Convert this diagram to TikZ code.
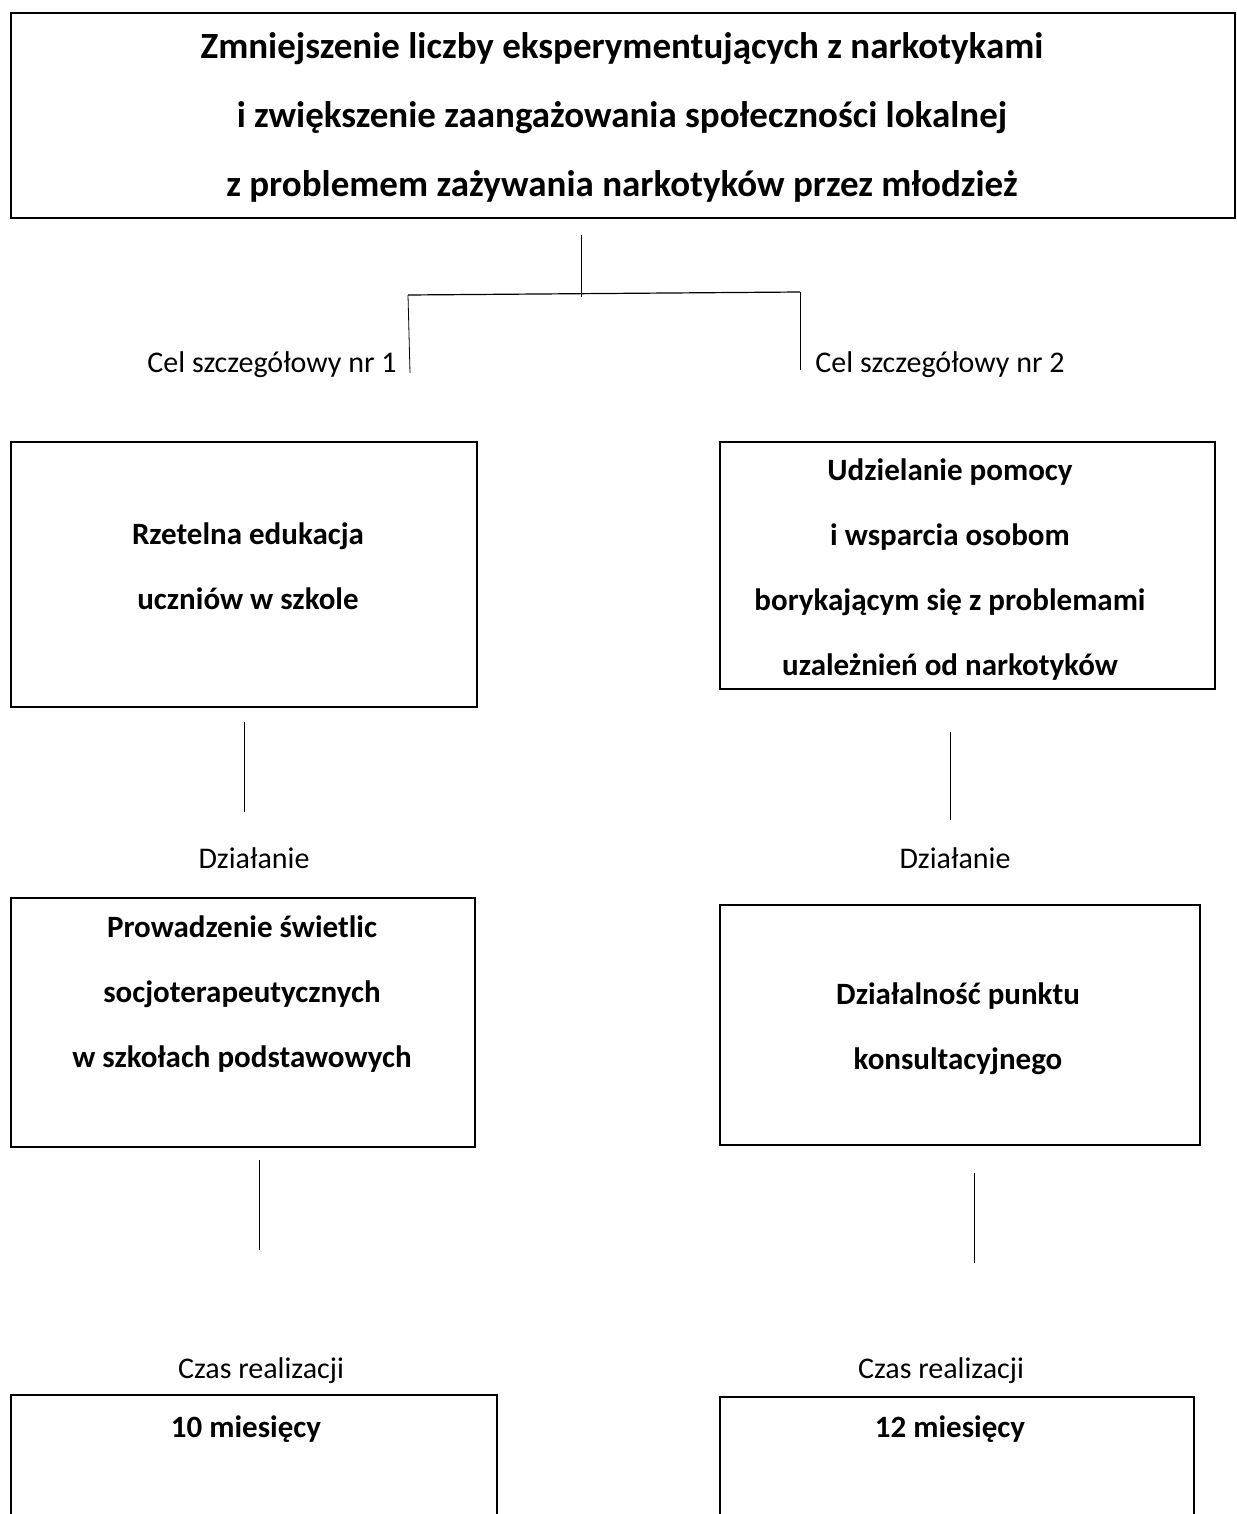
\documentclass[tikz,border=0pt]{standalone}
\usepackage{fontspec}
\setmainfont{Carlito}
\usetikzlibrary{positioning}

\begin{document}
\begin{tikzpicture}[x=1pt, y=-1pt,
		box/.style={rectangle, draw, line width=1.6pt, anchor=north west, inner sep=0pt},
		head/.style={align=center, font=\bfseries\fontsize{37}{69}\selectfont},
		txt/.style={align=center, font=\bfseries\fontsize{31}{65}\selectfont},
		lbl/.style={font=\fontsize{30}{36}\selectfont},
		line/.style={draw, line width=0.8pt}]
		\useasboundingbox (0,0) rectangle (1236,1514);
		% Boxes
		\node [box, minimum width=1224pt, minimum height=205pt] (goalbox) at (10,12) {};
		\node [box, minimum width=466pt, minimum height=265pt] (edubox) at (10,441) {};
		\node [box, minimum width=495pt, minimum height=247pt] (helpbox) at (719,441) {};
		\node [box, minimum width=464pt, minimum height=249pt] (clubbox) at (10,897) {};
		\node [box, minimum width=480pt, minimum height=240pt] (pointbox) at (719,904) {};
		\node [box, minimum width=486pt, minimum height=220pt] (tenbox) at (10,1394) {};
		\node [box, minimum width=474pt, minimum height=220pt] (twelvebox) at (719,1396) {};

		% Texts
		\node [head] (goal) at (622,117) {Zmniejszenie liczby eksperymentujących z narkotykami\\i zwiększenie zaangażowania społeczności lokalnej\\z problemem zażywania narkotyków przez młodzież};
		\node [txt] (edu) at (248,566) {Rzetelna edukacja\\uczniów w szkole};
		\node [txt] (help) at (950,570) {Udzielanie pomocy\\i wsparcia osobom\\borykającym się z problemami\\uzależnień od narkotyków};
		\node [txt] (club) at (242,994) {Prowadzenie świetlic\\socjoterapeutycznych\\w szkołach podstawowych};
		\node [txt] (point) at (958,1029) {Działalność punktu\\konsultacyjnego};
		\node [txt] (ten) at (246,1429) {10 miesięcy};
		\node [txt] (twelve) at (950,1429) {12 miesięcy};

		% Labels
		\node [lbl] (aim1) at (272,365) {Cel szczegółowy nr 1};
		\node [lbl] (aim2) at (940,365) {Cel szczegółowy nr 2};
		\node [lbl] (act1) at (254,858) {Działanie};
		\node [lbl] (act2) at (955,858) {Działanie};
		\node [lbl] (time1) at (261,1371) {Czas realizacji};
		\node [lbl] (time2) at (941,1371) {Czas realizacji};

		% Connector ends
		\coordinate (top) at (581,235);
		\coordinate (mid) at (581,297);
		\coordinate (forkl) at (408,295);
		\coordinate (forkr) at (800,292);
		\coordinate (legl) at (410,373);
		\coordinate (legr) at (800,370);
		\coordinate (e1) at (244,722);
		\coordinate (e2) at (244,812);
		\coordinate (h1) at (950,732);
		\coordinate (h2) at (950,820);
		\coordinate (c1) at (259,1160);
		\coordinate (c2) at (259,1250);
		\coordinate (p1) at (974,1173);
		\coordinate (p2) at (974,1263);

		% Paths
		\path [line] (top) -- (mid);
		\path [line, line width=1.2pt] (forkl) -- (forkr);
		\path [line] (forkl) -- (legl);
		\path [line] (forkr) -- (legr);
		\path [line] (e1) -- (e2);
		\path [line] (h1) -- (h2);
		\path [line] (c1) -- (c2);
		\path [line] (p1) -- (p2);
	\end{tikzpicture}
\end{document}
